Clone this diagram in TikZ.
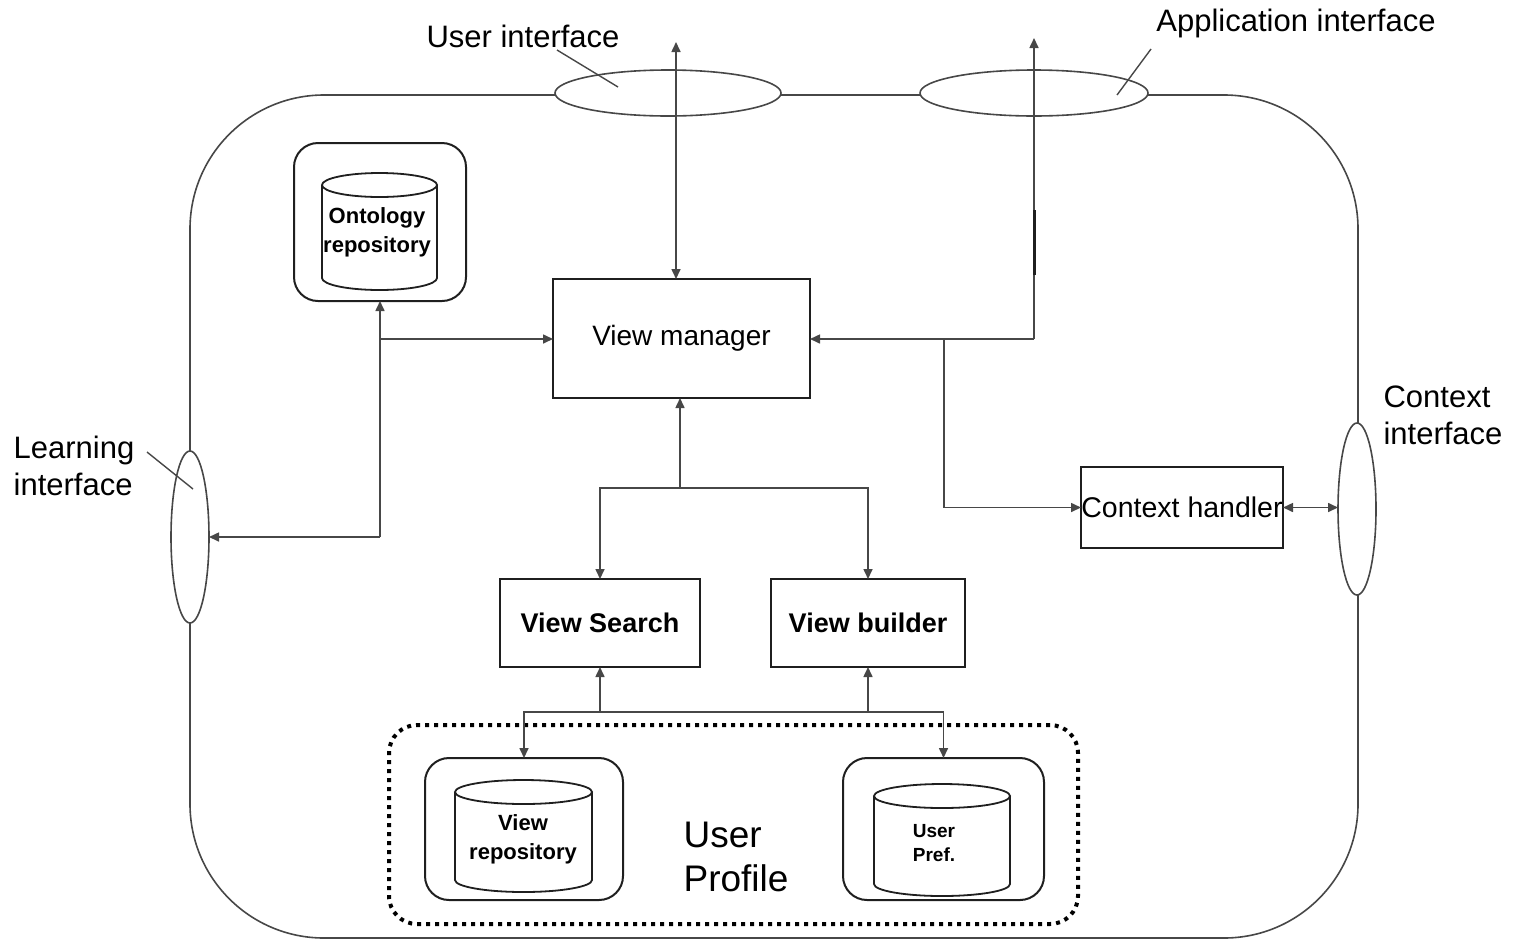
\documentclass[tikz,border=0pt]{standalone}
\usepackage{fontspec}
\setmainfont{Liberation Sans}
\usetikzlibrary{arrows.meta,shapes.geometric}
\definecolor{linec}{gray}{0.28}
\definecolor{edgec}{gray}{0.12}

% database drum: centre x, top-ellipse y, bottom y, half width (px), half width (pt), ellipse half height (pt)
\newcommand\drumshape[6]{%
  \draw[edgec, line width=0.9pt] (#1-#4,#2) -- (#1-#4,#3)
    arc[start angle=180, end angle=360, x radius=#5pt, y radius=#6pt] -- (#1+#4,#2);
  \draw[edgec, line width=0.9pt] (#1,#2) ellipse [x radius=#5pt, y radius=#6pt];
}

\begin{document}
\begin{tikzpicture}[x=0.5pt,y=-0.5pt,
  every node/.style={inner sep=0pt, outer sep=0pt},
  conn/.style={draw=linec, line width=0.8pt},
  tip/.style={-{Triangle[length=5pt,width=4.5pt]}},
  tips/.style={{Triangle[length=5pt,width=4.5pt]}-{Triangle[length=5pt,width=4.5pt]}},
  blk/.style={draw=edgec, line width=0.9pt, rectangle},
  iface/.style={draw=linec, line width=0.8pt, ellipse, fill=white},
  store/.style={draw=edgec, line width=1pt, rounded corners=12pt, rectangle},
  lbl/.style={font=\fontsize{15.5}{18.5}\selectfont, align=left},
  dbtext/.style={font=\fontsize{11}{14.5}\selectfont\bfseries, align=center},
  leader/.style={draw=linec, line width=0.7pt},
]
\useasboundingbox (0,0) rectangle (1518,943);

% outer component frame
\draw[linec, line width=0.8pt, rounded corners=67pt] (190,95) rectangle (1358,938);

% interfaces on the frame
\node[iface, minimum width=113pt, minimum height=23pt] (ui) at (668,93) {};
\node[iface, minimum width=114pt, minimum height=23pt] (ai) at (1034,93) {};
\node[iface, minimum width=19pt, minimum height=86pt] (li) at (190,537) {};
\node[iface, minimum width=19pt, minimum height=86pt] (ci) at (1357,509) {};

% interface labels
\node[lbl] (uil) at (523,36) {User interface};
\node[lbl] (ail) at (1296,23) {Application interface};
\node[lbl] (lil) at (74,466) {Learning\\interface};
\node[lbl] (cil) at (1443,415) {Context\\interface};
\draw[leader] (557,50) -- (618,87);
\draw[leader] (1151,49) -- (1117,95);
\draw[leader] (147,452) -- (193,489);

% processing blocks
\node[blk, minimum width=128.5pt, minimum height=59.5pt, font=\fontsize{14}{16}\selectfont] (vm) at (681.5,338.5) {View manager};
\node[blk, minimum width=100pt, minimum height=44pt, font=\fontsize{13.5}{16}\selectfont\bfseries] (vs) at (600,623) {View Search};
\node[blk, minimum width=97pt, minimum height=44pt, font=\fontsize{13.5}{16}\selectfont\bfseries] (vb) at (868,623) {View builder};
\node[blk, minimum width=101pt, minimum height=40.5pt, font=\fontsize{14.25}{16}\selectfont] (ch) at (1182,507.5) {Context handler};

% repositories
\node[store, minimum width=86pt, minimum height=79pt] (onto) at (380,222) {};
\drumshape{379.5}{185}{278}{57.5}{28.75}{6}
\node[dbtext] (ontotxt) at (377,232) {Ontology\\repository};

\node[store, minimum width=99pt, minimum height=71pt] (vrep) at (524,829) {};
\drumshape{523.5}{792}{880}{68.5}{34.25}{6}
\node[dbtext] (vreptxt) at (523,839) {View\\repository};

\node[store, minimum width=100.5pt, minimum height=71pt] (upref) at (943.5,829) {};
\drumshape{942}{796}{884}{68}{34}{6}
\node[dbtext, font=\fontsize{9.5}{12}\selectfont\bfseries] (upreftxt) at (934,843) {User\\Pref.};

% user profile group
\node[draw=black, line width=2pt, dash pattern=on 2pt off 2.5pt, rounded corners=14pt,
      minimum width=344.5pt, minimum height=99.5pt] (uprof) at (733.5,824.5) {};
\node[font=\fontsize{18.5}{22}\selectfont, align=left] (uproftxt) at (736,857) {User\\Profile};

% user interface <-> view manager
\coordinate (uitop) at (676,42);
\draw[conn, tips] (uitop) -- (uitop |- vm.north);

% application interface and context branch
\coordinate (aitop) at (1034,38);
\coordinate (aiturn) at (1034,339);
\draw[conn, tip] (aiturn) -- (aitop);
\draw[edgec, line width=1.5pt] (1034,210) -- (1034,275);
\draw[conn, tip] (aiturn) -- (aiturn -| vm.east);
\coordinate (chturn) at (944,339);
\draw[conn, tip] (chturn) |- (ch.west);
\draw[conn, tips] (ch.east) -- (ch.east -| ci.west);

% ontology links
\coordinate (ojn) at (380,537);
\coordinate (ovm) at (380,339);
\draw[conn, tip] (ojn) -- (onto.south);
\draw[conn, tip] (ojn) -- (ojn -| li.east);
\draw[conn, tip] (ovm) -- (ovm -| vm.west);

% view manager <-> search / builder
\coordinate (mj) at (680,488);
\draw[conn, tip] (mj) -- (mj |- vm.south);
\draw[conn, tip] (mj) -| (vs.north);
\draw[conn, tip] (mj) -| (vb.north);

% search / builder <-> user profile stores
\coordinate (ljl) at (600,712);
\coordinate (ljr) at (868,712);
\draw[conn] (ljl) -- (ljr);
\draw[conn, tip] (ljl) -- (vs.south);
\draw[conn, tip] (ljr) -- (vb.south);
\draw[conn, tip] (ljl) -| (vrep.north);
\draw[conn, tip] (ljr) -| (upref.north);
\end{tikzpicture}
\end{document}
